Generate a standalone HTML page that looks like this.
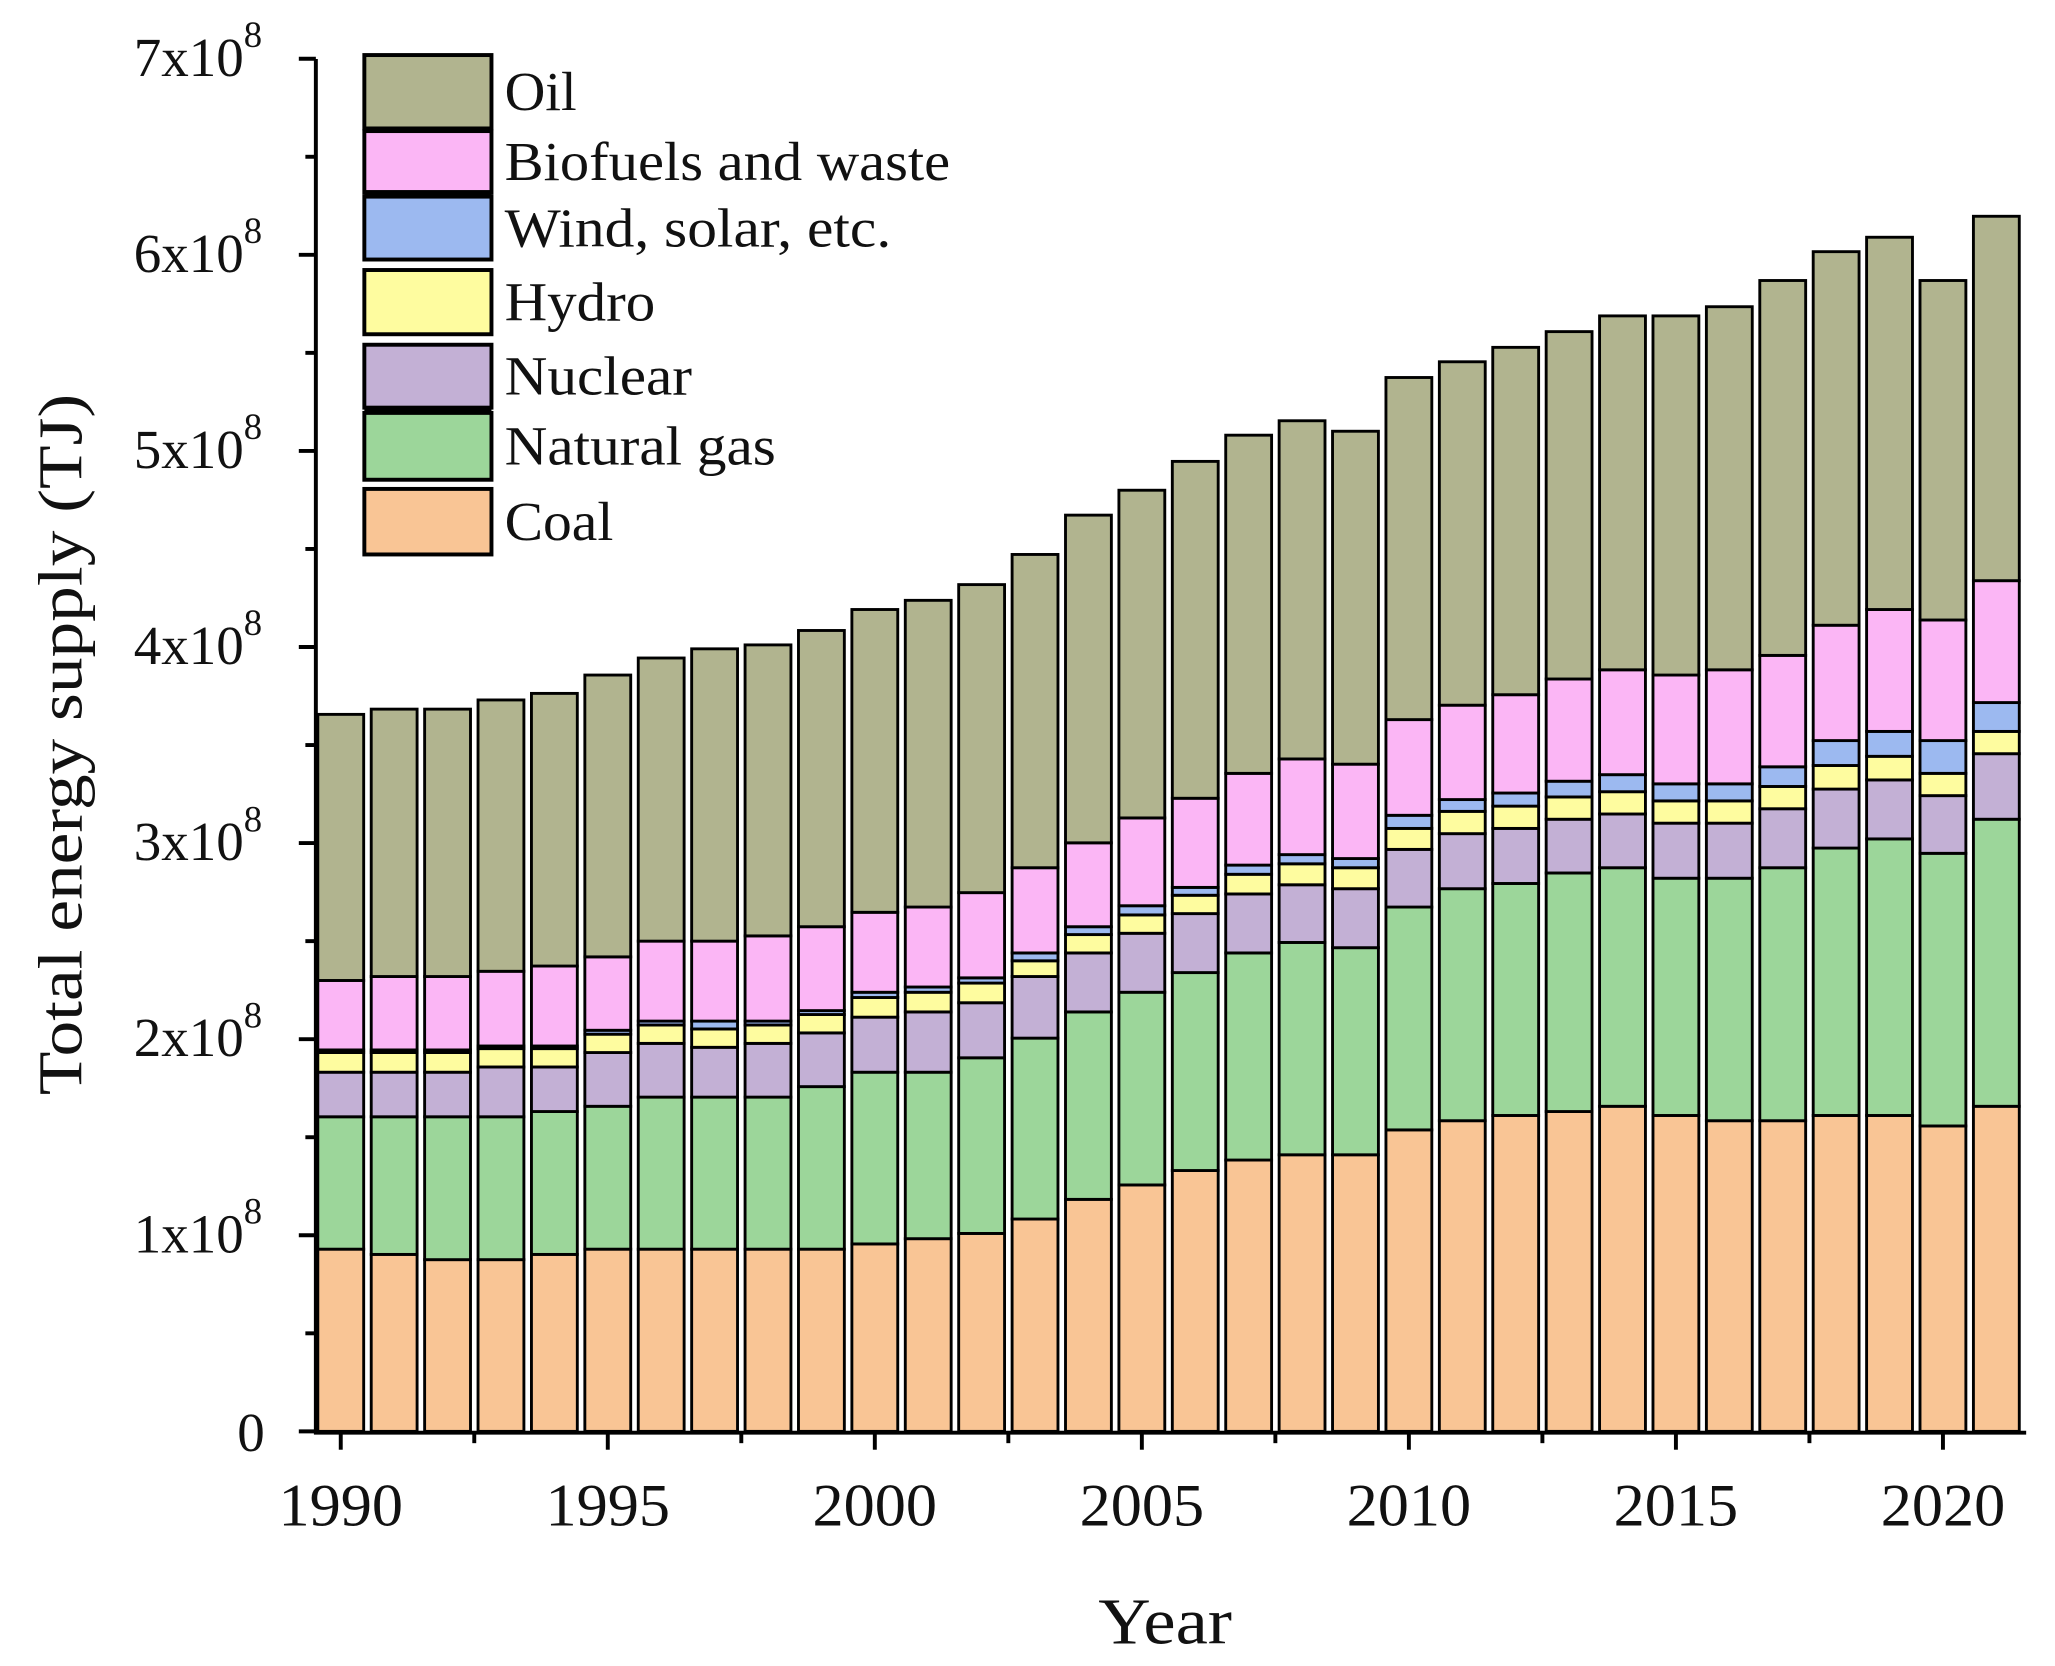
<!DOCTYPE html>
<html><head><meta charset="utf-8"><style>html,body{margin:0;padding:0;background:#fff}svg{display:block}</style></head>
<body>
<svg id="s" width="2055" height="1666" viewBox="0 0 1568 1271" preserveAspectRatio="none" xmlns="http://www.w3.org/2000/svg" font-family="'Liberation Serif', serif">
<rect width="1568" height="1271" fill="#fff"/>
<g id="bars"></g>
<g id="axes" stroke="#000" stroke-width="3" fill="none"></g>
<g id="txt" fill="#111"></g>
</svg>
<script>
const d=[
[953,852,818,803,801,748,545],[957,852,818,803,801,745,541],[961,852,818,803,801,745,541],[961,852,814,800,798,741,534],
[957,848,814,800,798,737,529],[953,844,803,789,786,730,515],[953,837,796,782,779,718,502],[953,837,799,785,779,718,495],
[953,837,796,782,779,714,492],[953,829,788,774,771,707,481],[949,818,776,761,757,696,465],[945,818,772,757,753,692,458],
[941,807,765,750,746,681,446],[930,792,745,733,727,662,423],[915,772,727,713,707,643,393],[904,757,712,698,691,624,374],
[893,742,697,683,677,609,352],[885,727,682,667,660,590,332],[881,719,675,659,652,579,321],[881,723,678,662,655,583,329],
[862,692,648,632,622,549,288],[855,678,636,619,610,538,276],[851,674,632,615,605,530,265],[848,666,625,608,596,518,253],
[844,662,621,604,591,511,241],[851,670,628,611,598,515,241],[855,670,628,611,598,511,234],[855,662,617,600,585,500,214],
[851,647,602,584,565,477,192],[851,640,595,577,558,465,181],[859,651,607,590,565,473,214],[844,625,575,558,536,443,165]];
const col=['#f9c595','#9cd69a','#c3b0d5','#fefc9f','#9cb9f0','#fbb6f5','#b1b48f'];
const base=1092,x0=260,dx=40.75,w=35;
let h='';
d.forEach((r,i)=>{const cx=x0+i*dx;let prev=base;
r.forEach((t,k)=>{h+=`<rect x="${cx-w/2}" y="${t}" width="${w}" height="${prev-t}" fill="${col[k]}" stroke="#000" stroke-width="2.2"/>`;prev=t;});});
document.getElementById('bars').innerHTML=h;
let a=`<path d="M241 45 V1093 H1546"/>`;
for(let i=0;i<=7;i++){const y=base-i*149.6;a+=`<path d="M228 ${y} H241"/>`;if(i<7)a+=`<path d="M233 ${y-74.8} H241"/>`;}
for(let yr=1990;yr<=2021;yr+=2.5){const x=x0+(yr-1990)*dx;a+=`<path d="M${x} 1093 V${(yr%5==0)?1106:1101}"/>`;}
document.getElementById('axes').innerHTML=a;
let t='';
const yl=['0','1x10','2x10','3x10','4x10','5x10','6x10','7x10'];
for(let i=0;i<=7;i++){const y=base-i*149.6+13;
 if(i==0)t+=`<text x="202" y="${y+2}" font-size="42" text-anchor="end">0</text>`;
 else t+=`<text x="200" y="${y}" font-size="42" text-anchor="end">${yl[i]}<tspan dy="-22" font-size="28">8</tspan></text>`;}
for(let yr=1990;yr<=2020;yr+=5){t+=`<text x="${x0+(yr-1990)*dx}" y="1164" font-size="46" text-anchor="middle" textLength="95" lengthAdjust="spacingAndGlyphs">${yr}</text>`;}
t+=`<text x="838" y="1254" font-size="50" textLength="102" lengthAdjust="spacingAndGlyphs">Year</text>`;
t+=`<text transform="translate(62 568) rotate(-90)" font-size="48" text-anchor="middle" textLength="535" lengthAdjust="spacingAndGlyphs">Total energy supply (TJ)</text>`;
const lg=[['Oil',42,98,55],['Biofuels and waste',100,147,340],['Wind, solar, etc.',150,198,295],['Hydro',206,255,115],['Nuclear',263,311,143],['Natural gas',315,366,207],['Coal',373,423,83]];
const lc=['#b1b48f','#fbb6f5','#9cb9f0','#fefc9f','#c3b0d5','#9cd69a','#f9c595'];
lg.forEach((l,i)=>{t+=`<rect x="278" y="${l[1]}" width="97" height="${l[2]-l[1]}" fill="${lc[i]}" stroke="#000" stroke-width="3"/>`;
 t+=`<text x="385" y="${(l[1]+l[2])/2+14}" font-size="42" textLength="${l[3]}" lengthAdjust="spacingAndGlyphs">${l[0]}</text>`;});
t+=`<rect x="278" y="145" width="97" height="6" fill="#000"/><rect x="278" y="310" width="97" height="6" fill="#000"/>`;
document.getElementById('txt').innerHTML=t;
</script>
</body></html>
